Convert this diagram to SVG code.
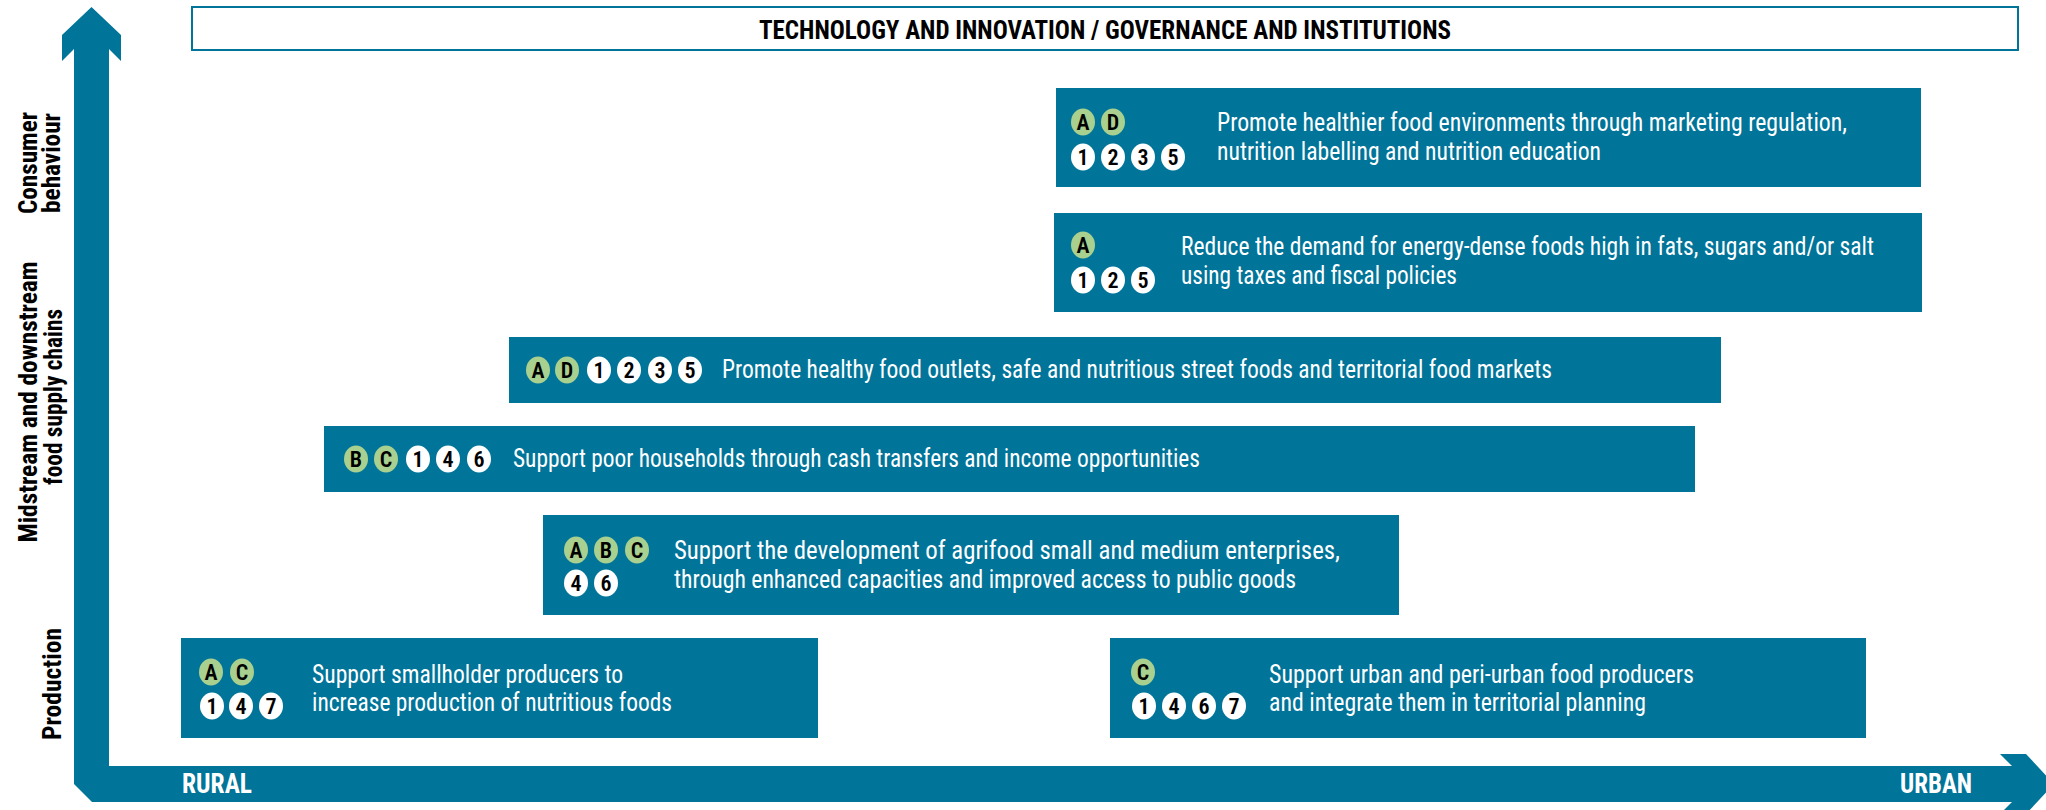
<svg xmlns="http://www.w3.org/2000/svg" width="2046" height="810" viewBox="0 0 2046 810">
<style>
.box{fill:#017499}
.t{font-family:"Liberation Sans Narrow","Roboto Condensed","Liberation Sans",Arial,sans-serif;font-size:25px;fill:#fff}
.g{fill:#a9d08e}
.w{fill:#fff}
.b{font-family:"Liberation Sans Narrow","Roboto Condensed","Liberation Sans",Arial,sans-serif;font-size:22px;fill:#000;text-anchor:middle;font-weight:600}
.ax{font-family:"Liberation Sans Narrow","Roboto Condensed","Liberation Sans",Arial,sans-serif;font-size:25px;font-weight:bold;fill:#000;text-anchor:middle}
.ends{font-family:"Liberation Sans Narrow","Roboto Condensed","Liberation Sans",Arial,sans-serif;font-size:27px;font-weight:bold;fill:#fff}
</style>
<defs>
<ellipse id="bd" cx="0" cy="0" rx="12" ry="13.5"/>
</defs>
<rect width="2046" height="810" fill="#fff"/>
<g id="connectors">
<path class="box" d="M91.5,7 L121,35 L121,61 L109,49 L109,766 L2012,766 L2000,754 L2026,754 L2054,784 L2026,814 L2000,814 L2012,802 L92,802 L74,784 L74,49 L62,61 L62,35 Z"/>
<text class="ends" x="182" y="793" textLength="70" lengthAdjust="spacingAndGlyphs">RURAL</text>
<text class="ends" x="1900" y="793" textLength="72" lengthAdjust="spacingAndGlyphs">URBAN</text>
</g>
<g id="axis-labels">
<text class="ax" transform="translate(37,163) rotate(-90)" textLength="102" lengthAdjust="spacingAndGlyphs">Consumer</text>
<text class="ax" transform="translate(60,163) rotate(-90)" textLength="100" lengthAdjust="spacingAndGlyphs">behaviour</text>
<text class="ax" transform="translate(37,402) rotate(-90)" textLength="281" lengthAdjust="spacingAndGlyphs">Midstream and downstream</text>
<text class="ax" transform="translate(62,397) rotate(-90)" textLength="176" lengthAdjust="spacingAndGlyphs">food supply chains</text>
<text class="ax" transform="translate(61,684) rotate(-90)" textLength="112" lengthAdjust="spacingAndGlyphs">Production</text>
</g>
<g id="banner">
<rect x="192" y="7" width="1826" height="43" fill="#fff" stroke="#017499" stroke-width="2"/>
<text x="759" y="39" font-family="'Liberation Sans Narrow','Roboto Condensed','Liberation Sans',Arial,sans-serif" font-size="25" font-weight="bold" fill="#000" textLength="692" lengthAdjust="spacingAndGlyphs">TECHNOLOGY AND INNOVATION / GOVERNANCE AND INSTITUTIONS</text>
</g>
<g id="node1">
<rect class="box" x="1056" y="88" width="865" height="99"/>
<use href="#bd" class="g" x="1083" y="122"/><text class="b" x="1083" y="130">A</text>
<use href="#bd" class="g" x="1113" y="122"/><text class="b" x="1113" y="130">D</text>
<use href="#bd" class="w" x="1083" y="157"/><text class="b" x="1083" y="165">1</text>
<use href="#bd" class="w" x="1113" y="157"/><text class="b" x="1113" y="165">2</text>
<use href="#bd" class="w" x="1143" y="157"/><text class="b" x="1143" y="165">3</text>
<use href="#bd" class="w" x="1173" y="157"/><text class="b" x="1173" y="165">5</text>
<text class="t" x="1217" y="131" textLength="630" lengthAdjust="spacingAndGlyphs">Promote healthier food environments through marketing regulation,</text>
<text class="t" x="1217" y="160" textLength="384" lengthAdjust="spacingAndGlyphs">nutrition labelling and nutrition education</text>
</g>
<g id="node2">
<rect class="box" x="1054" y="213" width="868" height="99"/>
<use href="#bd" class="g" x="1083" y="245"/><text class="b" x="1083" y="253">A</text>
<use href="#bd" class="w" x="1083" y="280"/><text class="b" x="1083" y="288">1</text>
<use href="#bd" class="w" x="1113" y="280"/><text class="b" x="1113" y="288">2</text>
<use href="#bd" class="w" x="1143" y="280"/><text class="b" x="1143" y="288">5</text>
<text class="t" x="1181" y="255" textLength="693" lengthAdjust="spacingAndGlyphs">Reduce the demand for energy-dense foods high in fats, sugars and/or salt</text>
<text class="t" x="1181" y="284" textLength="276" lengthAdjust="spacingAndGlyphs">using taxes and fiscal policies</text>
</g>
<g id="node3">
<rect class="box" x="509" y="337" width="1212" height="66"/>
<use href="#bd" class="g" x="538" y="370"/><text class="b" x="538" y="378">A</text>
<use href="#bd" class="g" x="567" y="370"/><text class="b" x="567" y="378">D</text>
<use href="#bd" class="w" x="599" y="370"/><text class="b" x="599" y="378">1</text>
<use href="#bd" class="w" x="629" y="370"/><text class="b" x="629" y="378">2</text>
<use href="#bd" class="w" x="660" y="370"/><text class="b" x="660" y="378">3</text>
<use href="#bd" class="w" x="690" y="370"/><text class="b" x="690" y="378">5</text>
<text class="t" x="722" y="378" textLength="830" lengthAdjust="spacingAndGlyphs">Promote healthy food outlets, safe and nutritious street foods and territorial food markets</text>
</g>
<g id="node4">
<rect class="box" x="324" y="426" width="1371" height="66"/>
<use href="#bd" class="g" x="356" y="459"/><text class="b" x="356" y="467">B</text>
<use href="#bd" class="g" x="386" y="459"/><text class="b" x="386" y="467">C</text>
<use href="#bd" class="w" x="418" y="459"/><text class="b" x="418" y="467">1</text>
<use href="#bd" class="w" x="448" y="459"/><text class="b" x="448" y="467">4</text>
<use href="#bd" class="w" x="479" y="459"/><text class="b" x="479" y="467">6</text>
<text class="t" x="513" y="467" textLength="687" lengthAdjust="spacingAndGlyphs">Support poor households through cash transfers and income opportunities</text>
</g>
<g id="node5">
<rect class="box" x="543" y="515" width="856" height="100"/>
<use href="#bd" class="g" x="576" y="550"/><text class="b" x="576" y="558">A</text>
<use href="#bd" class="g" x="606" y="550"/><text class="b" x="606" y="558">B</text>
<use href="#bd" class="g" x="637" y="550"/><text class="b" x="637" y="558">C</text>
<use href="#bd" class="w" x="576" y="583"/><text class="b" x="576" y="591">4</text>
<use href="#bd" class="w" x="606" y="583"/><text class="b" x="606" y="591">6</text>
<text class="t" x="674" y="559" textLength="666" lengthAdjust="spacingAndGlyphs">Support the development of agrifood small and medium enterprises,</text>
<text class="t" x="674" y="588" textLength="622" lengthAdjust="spacingAndGlyphs">through enhanced capacities and improved access to public goods</text>
</g>
<g id="node6">
<rect class="box" x="181" y="638" width="637" height="100"/>
<use href="#bd" class="g" x="211" y="672"/><text class="b" x="211" y="680">A</text>
<use href="#bd" class="g" x="242" y="672"/><text class="b" x="242" y="680">C</text>
<use href="#bd" class="w" x="212" y="706"/><text class="b" x="212" y="714">1</text>
<use href="#bd" class="w" x="241" y="706"/><text class="b" x="241" y="714">4</text>
<use href="#bd" class="w" x="271" y="706"/><text class="b" x="271" y="714">7</text>
<text class="t" x="312" y="683" textLength="311" lengthAdjust="spacingAndGlyphs">Support smallholder producers to</text>
<text class="t" x="312" y="711" textLength="360" lengthAdjust="spacingAndGlyphs">increase production of nutritious foods</text>
</g>
<g id="node7">
<rect class="box" x="1110" y="638" width="756" height="100"/>
<use href="#bd" class="g" x="1143" y="672"/><text class="b" x="1143" y="680">C</text>
<use href="#bd" class="w" x="1144" y="706"/><text class="b" x="1144" y="714">1</text>
<use href="#bd" class="w" x="1174" y="706"/><text class="b" x="1174" y="714">4</text>
<use href="#bd" class="w" x="1204" y="706"/><text class="b" x="1204" y="714">6</text>
<use href="#bd" class="w" x="1234" y="706"/><text class="b" x="1234" y="714">7</text>
<text class="t" x="1269" y="683" textLength="425" lengthAdjust="spacingAndGlyphs">Support urban and peri-urban food producers</text>
<text class="t" x="1269" y="711" textLength="377" lengthAdjust="spacingAndGlyphs">and integrate them in territorial planning</text>
</g>
</svg>
